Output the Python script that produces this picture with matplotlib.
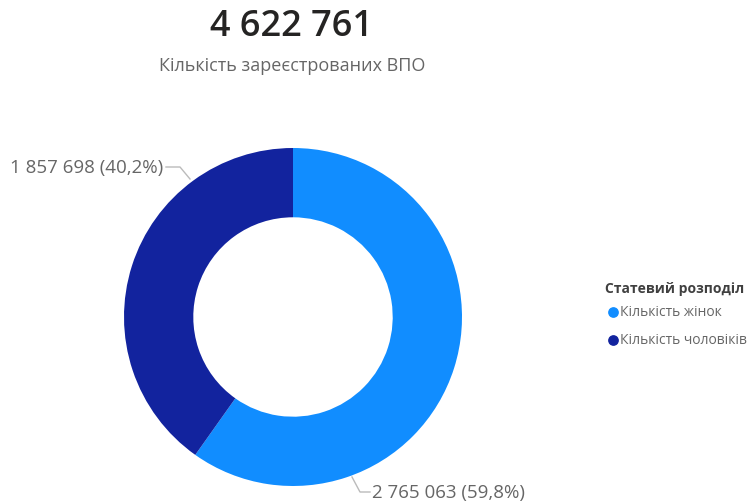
import matplotlib.pyplot as plt

# data
total_label = "4 622 761"
subtitle = "Кількість зареєстрованих ВПО"
categories = ["Кількість жінок", "Кількість чоловіків"]
values = [2765063, 1857698]
value_labels = ["2 765 063 (59,8%)", "1 857 698 (40,2%)"]
legend_title = "Статевий розподіл"
colors = ["#118DFF", "#12239E"]

plt.rcParams['font.family'] = ['Open Sans', 'DejaVu Sans']

fig = plt.figure(figsize=(7.48, 5.02), dpi=100)
ax = fig.add_axes([0, 0, 1, 1])

# pixel-like coords, y up
cx, cy, r = 293, 502 - 318, 169
wedges, _ = ax.pie(values, colors=colors, startangle=90, counterclock=False,
                   center=(cx, cy), radius=r, frame=False,
                   wedgeprops=dict(width=r * 0.41, linewidth=0))
ax.set_xlim(0, 748)
ax.set_ylim(0, 502)
ax.set_aspect('equal')
ax.axis('off')

grey = "#666666"
line_c = "#BBBBBB"

# leader lines + labels
ax.plot([352, 360, 370], [502 - 478, 502 - 493, 502 - 493], color=line_c, lw=1)
ax.text(372, 502 - 493, value_labels[0], fontsize=13.5, color=grey, va='center', ha='left')
ax.plot([190, 180, 166], [502 - 180, 502 - 168, 502 - 168], color=line_c, lw=1)
ax.text(163, 502 - 168, value_labels[1], fontsize=13.5, color=grey, va='center', ha='right')

# title
ax.text(291, 502 - 27, total_label, fontsize=26, color="#252423", ha='center', va='center',
        fontweight='semibold')
ax.text(292, 502 - 66, subtitle, fontsize=13, color=grey, ha='center', va='center')

# legend
ax.text(605, 502 - 289, legend_title, fontsize=10, fontweight='bold', color="#404040",
        va='center', ha='left')
for i, (cat, col) in enumerate(zip(categories, colors)):
    y = 502 - (313 + i * 28)
    ax.scatter([613], [y], s=45, color=col, zorder=3)
    ax.text(620, y, cat, fontsize=10, color=grey, va='center', ha='left')

fig.savefig("out.png", dpi=100)
